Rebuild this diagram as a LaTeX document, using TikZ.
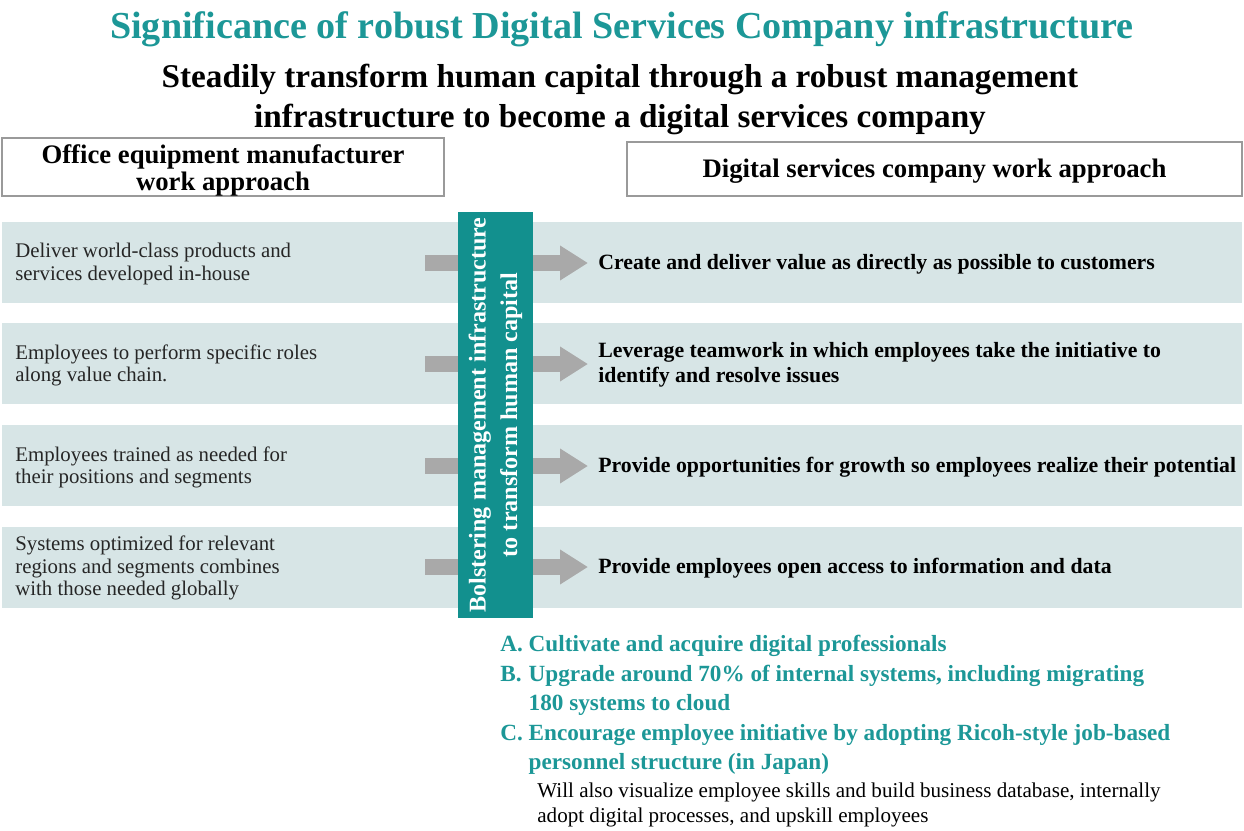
\documentclass[tikz,border=0pt]{standalone}
\usepackage{fontspec}
\setmainfont{Liberation Serif}
\usetikzlibrary{arrows.meta}
\definecolor{headteal}{HTML}{1C9797}
\definecolor{barteal}{HTML}{12908E}
\definecolor{bandblue}{HTML}{D7E5E6}
\definecolor{arrowgrey}{HTML}{A9A9A9}
\definecolor{boxgrey}{HTML}{9A9A9A}

\begin{document}
\begin{tikzpicture}[x=0.02cm,y=-0.02cm,
  title/.style={font=\bfseries\fontsize{21.7}{24}\selectfont,text=headteal},
  subtitle/.style={font=\bfseries\fontsize{18.9}{22.4}\selectfont,align=center},
  head box/.style={draw=boxgrey,line width=0.6pt,font=\bfseries\fontsize{15.2}{14.9}\selectfont,align=center},
  old way/.style={anchor=west,align=left,inner sep=0pt,text=black!85,font=\fontsize{11.85}{12.6}\selectfont},
  new way/.style={anchor=west,align=left,inner sep=0pt,font=\bfseries\fontsize{12.4}{14.2}\selectfont},
  band/.style={fill=bandblue,draw=none},
  shift arrow/.style={draw=arrowgrey,line width=0.32cm,-{Triangle[length=0.56cm,width=0.66cm]}},
  item/.style={anchor=north west,align=left,inner sep=0pt,text=headteal,font=\bfseries\fontsize{13.2}{16.8}\selectfont},
  note/.style={anchor=north west,align=left,inner sep=0pt,font=\fontsize{12}{14.3}\selectfont}]

  \useasboundingbox (0,0) rectangle (1244,831);

  % titles
  \node[title] (title) at (622,29) {Significance of robust Digital Services Company infrastructure};
  \node[subtitle] (subtitle) at (620,99.5) {Steadily transform human capital through a robust management\\infrastructure to become a digital services company};

  % column heads
  \node[head box,minimum width=442*0.02cm,minimum height=58*0.02cm] (oldhead) at (223,167) {};
  \node[align=center,font=\bfseries\fontsize{15.2}{14.9}\selectfont] (oldheadtext) at (223,170.5) {Office equipment manufacturer\\work approach};
  \node[head box,minimum width=615*0.02cm,minimum height=54*0.02cm] (newhead) at (934.5,169) {};
  \node[font=\bfseries\fontsize{15.2}{14.9}\selectfont] (newheadtext) at (934.5,171.5) {Digital services company work approach};

  % bands
  \foreach \y in {222,323,425,527}
    \fill[bandblue] (2,\y) rectangle (1242,\y+81);

  % arrows
  \foreach \i/\y in {1/263,2/364,3/466,4/567}{
    \coordinate (from\i) at (425,\y);
    \coordinate (to\i) at (588,\y);
    \draw[shift arrow] (from\i) -- (to\i);
  }

  % vertical bar
  \node[fill=barteal,minimum width=75*0.02cm,minimum height=406*0.02cm,inner sep=0pt] (bar) at (495.5,415) {};
  \node[rotate=90,text=white,align=center,font=\bfseries\fontsize{13.7}{18}\selectfont] (bartext) at (bar.center) {Bolstering management infrastructure\\to transform human capital};

  % old approach
  \node[old way] (old1) at (15,264) {Deliver world-class products and\\services developed in-house};
  \node[old way] (old2) at (15,365) {Employees to perform specific roles\\along value chain.};
  \node[old way] (old3) at (15,467) {Employees trained as needed for\\their positions and segments};
  \node[old way] (old4) at (15,568) {Systems optimized for relevant\\regions and segments combines\\with those needed globally};

  % new approach
  \node[new way] (new1) at (598,264) {Create and deliver value as directly as possible to customers};
  \node[new way] (new2) at (598,365) {Leverage teamwork in which employees take the initiative to\\identify and resolve issues};
  \node[new way] (new3) at (598,467) {Provide opportunities for growth so employees realize their potential};
  \node[new way] (new4) at (598,568) {Provide employees open access to information and data};

  % measures
  \node[item] (itemA) at (500,630.5) {\begin{tabular}{@{}l@{\hspace{0.25em}}l@{}}A. & Cultivate and acquire digital professionals\\
    B. & Upgrade around 70\% of internal systems, including migrating\\
       & 180 systems to cloud\\
    C. & Encourage employee initiative by adopting Ricoh-style job-based\\
       & personnel structure (in Japan)\end{tabular}};
  \node[note] (notes) at (537,782.5) {Will also visualize employee skills and build business database, internally\\adopt digital processes, and upskill employees};
\end{tikzpicture}
\end{document}
